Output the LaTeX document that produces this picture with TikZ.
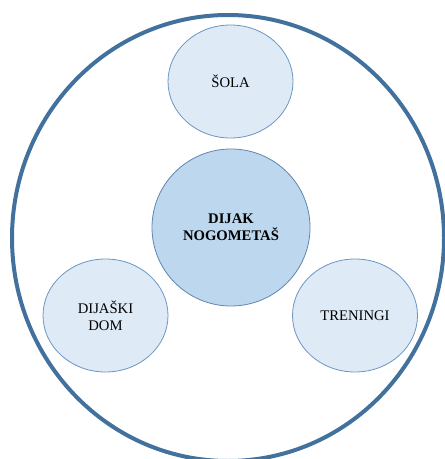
\documentclass[tikz,border=0pt]{standalone}
\usepackage{fontspec}
\setmainfont{Liberation Serif}
\usetikzlibrary{shapes.geometric}

\definecolor{ringblue}{HTML}{41719C}
\definecolor{edgeblue}{HTML}{6A95C4}
\definecolor{lightfill}{HTML}{DEEAF6}
\definecolor{midfill}{HTML}{BDD7EE}

\begin{document}
\begin{tikzpicture}[x=0.75pt,y=-0.75pt,font=\fontsize{11}{13}\selectfont]
  \tikzstyle{bubble}=[ellipse,draw=edgeblue,fill=lightfill,text=black,text centered,
    minimum width=93.75pt,minimum height=84.75pt,inner sep=0pt,line width=0.6pt]

  \useasboundingbox (0,0) rectangle (444,459);

  \node[ellipse,draw=ringblue,line width=3pt,minimum width=324pt,minimum height=334.5pt,inner sep=0pt] (ring) at (228,238) {};

  \node[bubble,fill=midfill,draw=edgeblue!90!black,minimum width=118.5pt,minimum height=117.75pt,font=\fontsize{11}{13}\selectfont\bfseries,align=center] (dijak) at (231,227.5) {DIJAK\\NOGOMETAŠ};
  \node[bubble] (sola) at (230.5,81.5) {ŠOLA};
  \node[bubble,align=center] (dom) at (105.5,315.5) {DIJAŠKI\\DOM};
  \node[bubble] (treninzi) at (355,315.5) {TRENINGI};

\end{tikzpicture}
\end{document}
